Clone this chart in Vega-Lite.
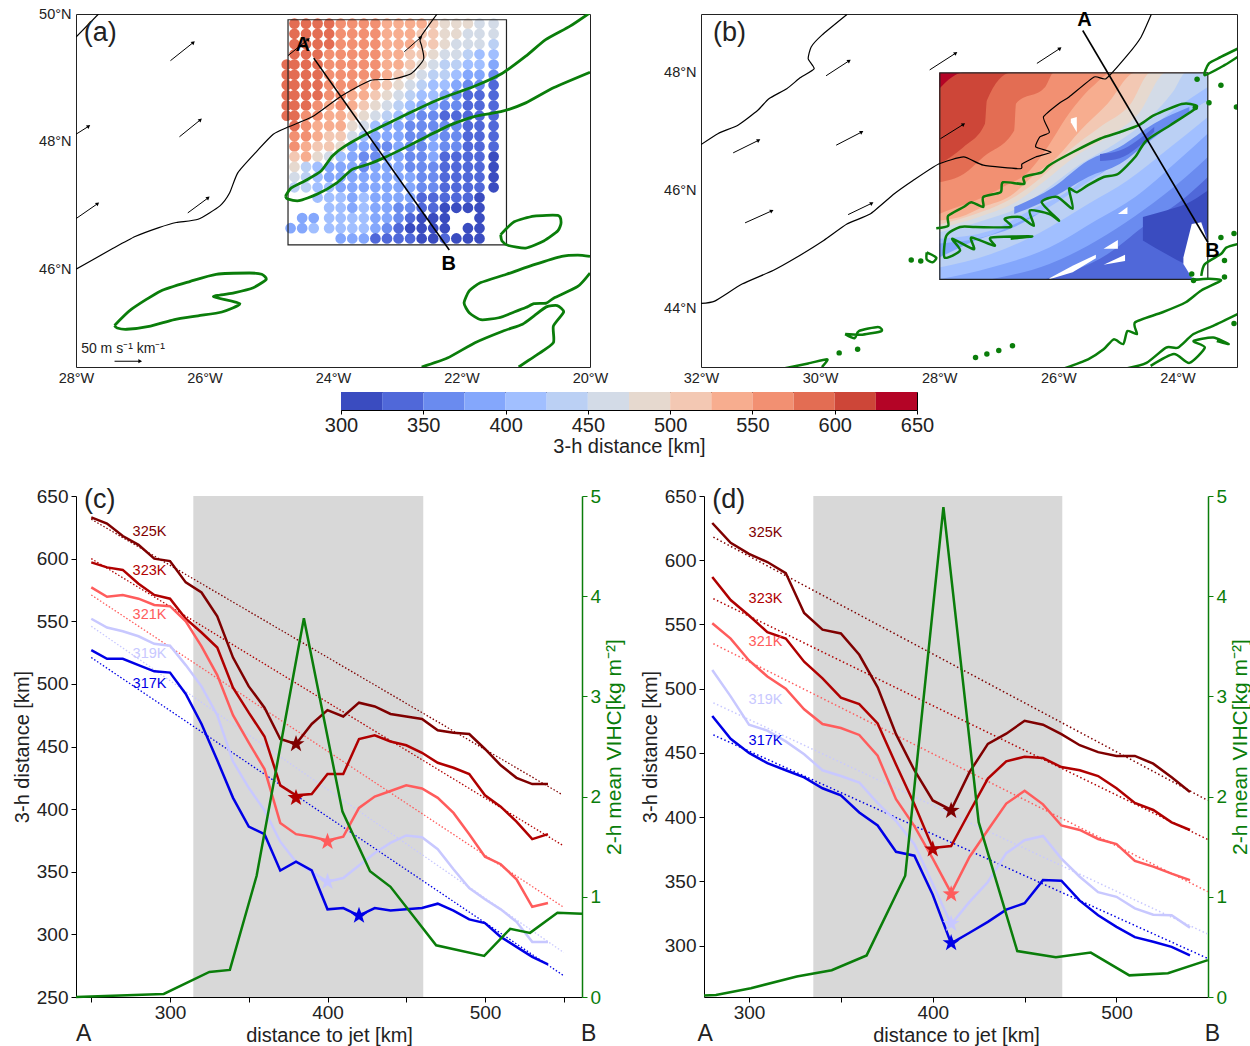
{"$schema":"https://vega.github.io/schema/vega-lite/v6.json","background":"white","padding":{"left":12,"top":5,"right":0,"bottom":0},"spacing":6,
"resolve":{"scale":{"color":"independent"}},
"config":{"view":{"stroke":null},"font":"Liberation Sans","axis":{"labelFont":"Liberation Sans","titleFont":"Liberation Sans","titleFontWeight":"normal","grid":false,"labelColor":"#222","titleColor":"#222","domainColor":"black","tickColor":"black","labelFlush":false,"labelOverlap":false},"text":{"font":"Liberation Sans"}},
"datasets":{
"a_pts":[
{"x":-24.72,"y":49.21,"d":590},{"x":-24.72,"y":49.05,"d":590},{"x":-24.72,"y":48.89,"d":590},{"x":-24.72,"y":48.73,"d":590},{"x":-24.72,"y":48.57,"d":590},{"x":-24.72,"y":48.41,"d":590},
{"x":-24.6,"y":49.85,"d":590},{"x":-24.6,"y":49.69,"d":590},{"x":-24.6,"y":49.53,"d":590},{"x":-24.6,"y":49.37,"d":590},{"x":-24.6,"y":49.21,"d":590},{"x":-24.6,"y":49.05,"d":590},{"x":-24.6,"y":48.89,"d":590},{"x":-24.6,"y":48.73,"d":590},{"x":-24.6,"y":48.57,"d":590},{"x":-24.6,"y":48.41,"d":590},{"x":-24.6,"y":48.25,"d":590},{"x":-24.6,"y":48.09,"d":560},{"x":-24.6,"y":47.93,"d":560},{"x":-24.6,"y":47.77,"d":510},{"x":-24.6,"y":47.61,"d":490},{"x":-24.6,"y":47.45,"d":460},{"x":-24.6,"y":47.29,"d":440},{"x":-24.66,"y":46.65,"d":390},{"x":-24.48,"y":46.81,"d":390},{"x":-24.48,"y":46.65,"d":390},
{"x":-24.42,"y":49.85,"d":590},{"x":-24.42,"y":49.69,"d":590},{"x":-24.42,"y":49.53,"d":590},{"x":-24.42,"y":49.37,"d":590},{"x":-24.42,"y":49.21,"d":590},{"x":-24.42,"y":49.05,"d":590},{"x":-24.42,"y":48.89,"d":590},{"x":-24.42,"y":48.73,"d":590},{"x":-24.42,"y":48.57,"d":590},{"x":-24.42,"y":48.41,"d":560},{"x":-24.42,"y":48.25,"d":560},{"x":-24.42,"y":48.09,"d":560},{"x":-24.42,"y":47.93,"d":540},{"x":-24.42,"y":47.77,"d":540},{"x":-24.42,"y":47.61,"d":440},{"x":-24.42,"y":47.45,"d":440},{"x":-24.42,"y":47.29,"d":440},
{"x":-24.24,"y":49.85,"d":590},{"x":-24.24,"y":49.69,"d":590},{"x":-24.24,"y":49.53,"d":590},{"x":-24.24,"y":49.37,"d":590},{"x":-24.24,"y":49.21,"d":590},{"x":-24.24,"y":49.05,"d":590},{"x":-24.24,"y":48.89,"d":590},{"x":-24.24,"y":48.73,"d":590},{"x":-24.24,"y":48.57,"d":560},{"x":-24.24,"y":48.41,"d":560},{"x":-24.24,"y":48.25,"d":540},{"x":-24.24,"y":48.09,"d":540},{"x":-24.24,"y":47.93,"d":510},{"x":-24.24,"y":47.77,"d":490},{"x":-24.24,"y":47.61,"d":410},{"x":-24.24,"y":47.45,"d":410},{"x":-24.24,"y":47.29,"d":410},{"x":-24.24,"y":47.13,"d":410},{"x":-24.3,"y":46.81,"d":390},{"x":-24.3,"y":46.65,"d":410},
{"x":-24.06,"y":49.85,"d":590},{"x":-24.06,"y":49.69,"d":590},{"x":-24.06,"y":49.53,"d":590},{"x":-24.06,"y":49.37,"d":560},{"x":-24.06,"y":49.21,"d":560},{"x":-24.06,"y":49.05,"d":560},{"x":-24.06,"y":48.89,"d":560},{"x":-24.06,"y":48.73,"d":560},{"x":-24.06,"y":48.57,"d":540},{"x":-24.06,"y":48.41,"d":540},{"x":-24.06,"y":48.25,"d":540},{"x":-24.06,"y":48.09,"d":510},{"x":-24.06,"y":47.93,"d":510},{"x":-24.06,"y":47.77,"d":460},{"x":-24.06,"y":47.61,"d":390},{"x":-24.06,"y":47.45,"d":390},{"x":-24.06,"y":47.29,"d":410},{"x":-24.06,"y":47.13,"d":410},{"x":-24.06,"y":46.97,"d":410},{"x":-24.06,"y":46.81,"d":410},{"x":-24.06,"y":46.65,"d":410},
{"x":-23.88,"y":49.85,"d":560},{"x":-23.88,"y":49.69,"d":560},{"x":-23.88,"y":49.53,"d":560},{"x":-23.88,"y":49.37,"d":560},{"x":-23.88,"y":49.21,"d":560},{"x":-23.88,"y":49.05,"d":560},{"x":-23.88,"y":48.89,"d":560},{"x":-23.88,"y":48.73,"d":560},{"x":-23.88,"y":48.57,"d":560},{"x":-23.88,"y":48.41,"d":540},{"x":-23.88,"y":48.25,"d":540},{"x":-23.88,"y":48.09,"d":510},{"x":-23.88,"y":47.93,"d":490},{"x":-23.88,"y":47.77,"d":410},{"x":-23.88,"y":47.61,"d":390},{"x":-23.88,"y":47.45,"d":390},{"x":-23.88,"y":47.29,"d":390},{"x":-23.88,"y":47.13,"d":410},{"x":-23.88,"y":46.97,"d":410},{"x":-23.88,"y":46.81,"d":410},{"x":-23.88,"y":46.65,"d":410},{"x":-23.88,"y":46.49,"d":390},
{"x":-23.7,"y":49.85,"d":560},{"x":-23.7,"y":49.69,"d":560},{"x":-23.7,"y":49.53,"d":560},{"x":-23.7,"y":49.37,"d":560},{"x":-23.7,"y":49.21,"d":560},{"x":-23.7,"y":49.05,"d":560},{"x":-23.7,"y":48.89,"d":560},{"x":-23.7,"y":48.73,"d":540},{"x":-23.7,"y":48.57,"d":540},{"x":-23.7,"y":48.41,"d":510},{"x":-23.7,"y":48.25,"d":490},{"x":-23.7,"y":48.09,"d":460},{"x":-23.7,"y":47.93,"d":390},{"x":-23.7,"y":47.77,"d":390},{"x":-23.7,"y":47.61,"d":390},{"x":-23.7,"y":47.45,"d":390},{"x":-23.7,"y":47.29,"d":390},{"x":-23.7,"y":47.13,"d":390},{"x":-23.7,"y":46.97,"d":390},{"x":-23.7,"y":46.81,"d":410},{"x":-23.7,"y":46.65,"d":410},{"x":-23.7,"y":46.49,"d":390},
{"x":-23.52,"y":49.85,"d":560},{"x":-23.52,"y":49.69,"d":560},{"x":-23.52,"y":49.53,"d":560},{"x":-23.52,"y":49.37,"d":560},{"x":-23.52,"y":49.21,"d":560},{"x":-23.52,"y":49.05,"d":560},{"x":-23.52,"y":48.89,"d":540},{"x":-23.52,"y":48.73,"d":540},{"x":-23.52,"y":48.57,"d":510},{"x":-23.52,"y":48.41,"d":490},{"x":-23.52,"y":48.25,"d":460},{"x":-23.52,"y":48.09,"d":410},{"x":-23.52,"y":47.93,"d":390},{"x":-23.52,"y":47.77,"d":360},{"x":-23.52,"y":47.61,"d":360},{"x":-23.52,"y":47.45,"d":390},{"x":-23.52,"y":47.29,"d":390},{"x":-23.52,"y":47.13,"d":410},{"x":-23.52,"y":46.97,"d":410},{"x":-23.52,"y":46.81,"d":410},{"x":-23.52,"y":46.65,"d":410},{"x":-23.52,"y":46.49,"d":390},
{"x":-23.34,"y":49.85,"d":560},{"x":-23.34,"y":49.69,"d":560},{"x":-23.34,"y":49.53,"d":560},{"x":-23.34,"y":49.37,"d":560},{"x":-23.34,"y":49.21,"d":560},{"x":-23.34,"y":49.05,"d":560},{"x":-23.34,"y":48.89,"d":540},{"x":-23.34,"y":48.73,"d":510},{"x":-23.34,"y":48.57,"d":490},{"x":-23.34,"y":48.41,"d":460},{"x":-23.34,"y":48.25,"d":410},{"x":-23.34,"y":48.09,"d":390},{"x":-23.34,"y":47.93,"d":360},{"x":-23.34,"y":47.77,"d":360},{"x":-23.34,"y":47.61,"d":390},{"x":-23.34,"y":47.45,"d":390},{"x":-23.34,"y":47.29,"d":390},{"x":-23.34,"y":47.13,"d":390},{"x":-23.34,"y":46.97,"d":390},{"x":-23.34,"y":46.81,"d":390},{"x":-23.34,"y":46.65,"d":390},{"x":-23.34,"y":46.49,"d":340},
{"x":-23.16,"y":49.85,"d":540},{"x":-23.16,"y":49.69,"d":540},{"x":-23.16,"y":49.53,"d":540},{"x":-23.16,"y":49.37,"d":540},{"x":-23.16,"y":49.21,"d":540},{"x":-23.16,"y":49.05,"d":540},{"x":-23.16,"y":48.89,"d":510},{"x":-23.16,"y":48.73,"d":490},{"x":-23.16,"y":48.57,"d":460},{"x":-23.16,"y":48.41,"d":440},{"x":-23.16,"y":48.25,"d":390},{"x":-23.16,"y":48.09,"d":390},{"x":-23.16,"y":47.93,"d":360},{"x":-23.16,"y":47.77,"d":390},{"x":-23.16,"y":47.61,"d":390},{"x":-23.16,"y":47.45,"d":390},{"x":-23.16,"y":47.29,"d":390},{"x":-23.16,"y":47.13,"d":390},{"x":-23.16,"y":46.97,"d":390},{"x":-23.16,"y":46.81,"d":390},{"x":-23.16,"y":46.65,"d":360},{"x":-23.16,"y":46.49,"d":340},
{"x":-22.98,"y":49.85,"d":540},{"x":-22.98,"y":49.69,"d":540},{"x":-22.98,"y":49.53,"d":540},{"x":-22.98,"y":49.37,"d":540},{"x":-22.98,"y":49.21,"d":540},{"x":-22.98,"y":49.05,"d":510},{"x":-22.98,"y":48.89,"d":490},{"x":-22.98,"y":48.73,"d":460},{"x":-22.98,"y":48.57,"d":440},{"x":-22.98,"y":48.41,"d":410},{"x":-22.98,"y":48.25,"d":390},{"x":-22.98,"y":48.09,"d":390},{"x":-22.98,"y":47.93,"d":390},{"x":-22.98,"y":47.77,"d":390},{"x":-22.98,"y":47.61,"d":390},{"x":-22.98,"y":47.45,"d":390},{"x":-22.98,"y":47.29,"d":390},{"x":-22.98,"y":47.13,"d":390},{"x":-22.98,"y":46.97,"d":360},{"x":-22.98,"y":46.81,"d":360},{"x":-22.98,"y":46.65,"d":340},{"x":-22.98,"y":46.49,"d":340},
{"x":-22.8,"y":49.85,"d":540},{"x":-22.8,"y":49.69,"d":540},{"x":-22.8,"y":49.53,"d":540},{"x":-22.8,"y":49.37,"d":510},{"x":-22.8,"y":49.21,"d":510},{"x":-22.8,"y":49.05,"d":490},{"x":-22.8,"y":48.89,"d":460},{"x":-22.8,"y":48.73,"d":440},{"x":-22.8,"y":48.57,"d":410},{"x":-22.8,"y":48.41,"d":390},{"x":-22.8,"y":48.25,"d":360},{"x":-22.8,"y":48.09,"d":360},{"x":-22.8,"y":47.93,"d":360},{"x":-22.8,"y":47.77,"d":360},{"x":-22.8,"y":47.61,"d":360},{"x":-22.8,"y":47.45,"d":390},{"x":-22.8,"y":47.29,"d":390},{"x":-22.8,"y":47.13,"d":390},{"x":-22.8,"y":46.97,"d":360},{"x":-22.8,"y":46.81,"d":340},{"x":-22.8,"y":46.65,"d":310},{"x":-22.8,"y":46.49,"d":340},
{"x":-22.62,"y":49.85,"d":540},{"x":-22.62,"y":49.69,"d":510},{"x":-22.62,"y":49.53,"d":510},{"x":-22.62,"y":49.37,"d":510},{"x":-22.62,"y":49.21,"d":490},{"x":-22.62,"y":49.05,"d":460},{"x":-22.62,"y":48.89,"d":440},{"x":-22.62,"y":48.73,"d":410},{"x":-22.62,"y":48.57,"d":390},{"x":-22.62,"y":48.41,"d":360},{"x":-22.62,"y":48.25,"d":360},{"x":-22.62,"y":48.09,"d":360},{"x":-22.62,"y":47.93,"d":360},{"x":-22.62,"y":47.77,"d":360},{"x":-22.62,"y":47.61,"d":360},{"x":-22.62,"y":47.45,"d":360},{"x":-22.62,"y":47.29,"d":360},{"x":-22.62,"y":47.13,"d":340},{"x":-22.62,"y":46.97,"d":340},{"x":-22.62,"y":46.81,"d":310},{"x":-22.62,"y":46.65,"d":310},{"x":-22.62,"y":46.49,"d":310},
{"x":-22.44,"y":49.85,"d":510},{"x":-22.44,"y":49.69,"d":510},{"x":-22.44,"y":49.53,"d":510},{"x":-22.44,"y":49.37,"d":490},{"x":-22.44,"y":49.21,"d":460},{"x":-22.44,"y":49.05,"d":440},{"x":-22.44,"y":48.89,"d":410},{"x":-22.44,"y":48.73,"d":410},{"x":-22.44,"y":48.57,"d":390},{"x":-22.44,"y":48.41,"d":360},{"x":-22.44,"y":48.25,"d":360},{"x":-22.44,"y":48.09,"d":390},{"x":-22.44,"y":47.93,"d":390},{"x":-22.44,"y":47.77,"d":390},{"x":-22.44,"y":47.61,"d":360},{"x":-22.44,"y":47.45,"d":360},{"x":-22.44,"y":47.29,"d":360},{"x":-22.44,"y":47.13,"d":340},{"x":-22.44,"y":46.97,"d":340},{"x":-22.44,"y":46.81,"d":310},{"x":-22.44,"y":46.65,"d":310},{"x":-22.44,"y":46.49,"d":310},
{"x":-22.26,"y":49.85,"d":490},{"x":-22.26,"y":49.69,"d":490},{"x":-22.26,"y":49.53,"d":490},{"x":-22.26,"y":49.37,"d":460},{"x":-22.26,"y":49.21,"d":440},{"x":-22.26,"y":49.05,"d":440},{"x":-22.26,"y":48.89,"d":410},{"x":-22.26,"y":48.73,"d":390},{"x":-22.26,"y":48.57,"d":360},{"x":-22.26,"y":48.41,"d":340},{"x":-22.26,"y":48.25,"d":360},{"x":-22.26,"y":48.09,"d":360},{"x":-22.26,"y":47.93,"d":360},{"x":-22.26,"y":47.77,"d":340},{"x":-22.26,"y":47.61,"d":340},{"x":-22.26,"y":47.45,"d":340},{"x":-22.26,"y":47.29,"d":340},{"x":-22.26,"y":47.13,"d":340},{"x":-22.26,"y":46.97,"d":310},{"x":-22.26,"y":46.81,"d":310},{"x":-22.26,"y":46.65,"d":310},{"x":-22.26,"y":46.49,"d":340},
{"x":-22.08,"y":49.85,"d":490},{"x":-22.08,"y":49.69,"d":490},{"x":-22.08,"y":49.53,"d":460},{"x":-22.08,"y":49.37,"d":460},{"x":-22.08,"y":49.21,"d":440},{"x":-22.08,"y":49.05,"d":410},{"x":-22.08,"y":48.89,"d":390},{"x":-22.08,"y":48.73,"d":360},{"x":-22.08,"y":48.57,"d":360},{"x":-22.08,"y":48.41,"d":340},{"x":-22.08,"y":48.25,"d":360},{"x":-22.08,"y":48.09,"d":360},{"x":-22.08,"y":47.93,"d":360},{"x":-22.08,"y":47.77,"d":340},{"x":-22.08,"y":47.61,"d":340},{"x":-22.08,"y":47.45,"d":340},{"x":-22.08,"y":47.29,"d":340},{"x":-22.08,"y":47.13,"d":340},{"x":-22.08,"y":46.97,"d":310},{"x":-22.08,"y":46.49,"d":310},
{"x":-21.9,"y":49.85,"d":490},{"x":-21.9,"y":49.69,"d":460},{"x":-21.9,"y":49.53,"d":460},{"x":-21.9,"y":49.37,"d":440},{"x":-21.9,"y":49.21,"d":410},{"x":-21.9,"y":49.05,"d":390},{"x":-21.9,"y":48.89,"d":360},{"x":-21.9,"y":48.73,"d":340},{"x":-21.9,"y":48.57,"d":340},{"x":-21.9,"y":48.41,"d":340},{"x":-21.9,"y":48.25,"d":340},{"x":-21.9,"y":48.09,"d":340},{"x":-21.9,"y":47.93,"d":340},{"x":-21.9,"y":47.77,"d":340},{"x":-21.9,"y":47.61,"d":340},{"x":-21.9,"y":47.45,"d":340},{"x":-21.9,"y":47.29,"d":340},{"x":-21.9,"y":47.13,"d":340},{"x":-21.9,"y":46.97,"d":310},{"x":-21.9,"y":46.65,"d":310},{"x":-21.9,"y":46.49,"d":310},
{"x":-21.72,"y":49.85,"d":460},{"x":-21.72,"y":49.69,"d":460},{"x":-21.72,"y":49.53,"d":460},{"x":-21.72,"y":49.37,"d":410},{"x":-21.72,"y":49.21,"d":410},{"x":-21.72,"y":49.05,"d":390},{"x":-21.72,"y":48.89,"d":360},{"x":-21.72,"y":48.73,"d":340},{"x":-21.72,"y":48.57,"d":340},{"x":-21.72,"y":48.41,"d":340},{"x":-21.72,"y":48.25,"d":340},{"x":-21.72,"y":48.09,"d":340},{"x":-21.72,"y":47.93,"d":340},{"x":-21.72,"y":47.77,"d":340},{"x":-21.72,"y":47.61,"d":340},{"x":-21.72,"y":47.45,"d":340},{"x":-21.72,"y":47.29,"d":340},{"x":-21.72,"y":47.13,"d":310},{"x":-21.72,"y":46.97,"d":310},{"x":-21.72,"y":46.81,"d":310},{"x":-21.72,"y":46.65,"d":310},{"x":-21.72,"y":46.49,"d":310},
{"x":-21.5,"y":49.85,"d":460},{"x":-21.5,"y":49.69,"d":460},{"x":-21.5,"y":49.53,"d":440},{"x":-21.5,"y":49.37,"d":410},{"x":-21.5,"y":49.21,"d":390},{"x":-21.5,"y":49.05,"d":360},{"x":-21.5,"y":48.89,"d":340},{"x":-21.5,"y":48.73,"d":340},{"x":-21.5,"y":48.57,"d":340},{"x":-21.5,"y":48.41,"d":340},{"x":-21.5,"y":48.25,"d":340},{"x":-21.5,"y":48.09,"d":340},{"x":-21.5,"y":47.93,"d":340},{"x":-21.5,"y":47.77,"d":310},{"x":-21.5,"y":47.61,"d":310},{"x":-21.5,"y":47.45,"d":310},{"x":-21.5,"y":47.29,"d":310}],
"a_green":[
{"g":1,"x":-24.74,"y":47.15},{"g":1,"x":-24.65,"y":47.28},{"g":1,"x":-24.44,"y":47.39},{"g":1,"x":-24.19,"y":47.54},{"g":1,"x":-24.01,"y":47.78},{"g":1,"x":-23.82,"y":47.93},{"g":1,"x":-23.45,"y":48.14},{"g":1,"x":-23.02,"y":48.35},{"g":1,"x":-22.65,"y":48.53},{"g":1,"x":-22.29,"y":48.69},{"g":1,"x":-21.8,"y":48.87},{"g":1,"x":-21.37,"y":49.07},{"g":1,"x":-21.0,"y":49.34},{"g":1,"x":-20.69,"y":49.6},{"g":1,"x":-20.31,"y":49.81},{"g":1,"x":-20,"y":50.02},
{"g":2,"x":-20,"y":49.09},{"g":2,"x":-20.56,"y":48.85},{"g":2,"x":-21.0,"y":48.61},{"g":2,"x":-21.36,"y":48.48},{"g":2,"x":-21.79,"y":48.4},{"g":2,"x":-22.16,"y":48.27},{"g":2,"x":-22.53,"y":48.09},{"g":2,"x":-22.84,"y":47.93},{"g":2,"x":-23.21,"y":47.75},{"g":2,"x":-23.45,"y":47.65},{"g":2,"x":-23.7,"y":47.57},{"g":2,"x":-23.94,"y":47.36},{"g":2,"x":-24.25,"y":47.18},{"g":2,"x":-24.53,"y":47.08},{"g":2,"x":-24.71,"y":47.11},{"g":2,"x":-24.74,"y":47.15},
{"g":3,"x":-21.39,"y":46.55},{"g":3,"x":-21.18,"y":46.75},{"g":3,"x":-20.87,"y":46.84},{"g":3,"x":-20.5,"y":46.85},{"g":3,"x":-20.45,"y":46.74},{"g":3,"x":-20.5,"y":46.61},{"g":3,"x":-20.72,"y":46.45},{"g":3,"x":-21.0,"y":46.34},{"g":3,"x":-21.27,"y":46.38},{"g":3,"x":-21.37,"y":46.45},{"g":3,"x":-21.39,"y":46.55},
{"g":4,"x":-27.4,"y":45.13},{"g":4,"x":-27.14,"y":45.38},{"g":4,"x":-26.68,"y":45.67},{"g":4,"x":-26.22,"y":45.82},{"g":4,"x":-25.82,"y":45.93},{"g":4,"x":-25.3,"y":45.95},{"g":4,"x":-25.11,"y":45.93},{"g":4,"x":-25.04,"y":45.85},{"g":4,"x":-25.24,"y":45.72},{"g":4,"x":-25.54,"y":45.64},{"g":4,"x":-25.86,"y":45.58},{"g":4,"x":-25.45,"y":45.47},{"g":4,"x":-25.73,"y":45.34},{"g":4,"x":-26.1,"y":45.28},{"g":4,"x":-26.47,"y":45.22},{"g":4,"x":-26.84,"y":45.12},{"g":4,"x":-27.21,"y":45.07},{"g":4,"x":-27.36,"y":45.09},{"g":4,"x":-27.4,"y":45.13},
{"g":5,"x":-20,"y":45.95},{"g":5,"x":-20.19,"y":45.74},{"g":5,"x":-20.56,"y":45.56},{"g":5,"x":-20.68,"y":45.48},{"g":5,"x":-20.87,"y":45.47},{"g":5,"x":-21.0,"y":45.41},{"g":5,"x":-21.18,"y":45.34},{"g":5,"x":-21.42,"y":45.25},{"g":5,"x":-21.7,"y":45.22},{"g":5,"x":-21.88,"y":45.33},{"g":5,"x":-21.96,"y":45.48},{"g":5,"x":-21.88,"y":45.67},{"g":5,"x":-21.7,"y":45.8},{"g":5,"x":-21.3,"y":45.93},{"g":5,"x":-20.87,"y":46.08},{"g":5,"x":-20.44,"y":46.21},{"g":5,"x":-20.19,"y":46.23},{"g":5,"x":-20,"y":46.21},
{"g":6,"x":-22.62,"y":44.48},{"g":6,"x":-22.22,"y":44.62},{"g":6,"x":-21.79,"y":44.86},{"g":6,"x":-21.36,"y":45.04},{"g":6,"x":-21.05,"y":45.15},{"g":6,"x":-20.87,"y":45.28},{"g":6,"x":-20.68,"y":45.42},{"g":6,"x":-20.51,"y":45.44},{"g":6,"x":-20.41,"y":45.34},{"g":6,"x":-20.57,"y":45.12},{"g":6,"x":-20.57,"y":44.86},{"g":6,"x":-20.81,"y":44.68},{"g":6,"x":-21.11,"y":44.48}],
"a_black":[
{"g":1,"x":-28,"y":46.01},{"g":1,"x":-27.45,"y":46.32},{"g":1,"x":-27.08,"y":46.52},{"g":1,"x":-26.71,"y":46.66},{"g":1,"x":-26.44,"y":46.74},{"g":1,"x":-26.1,"y":46.79},{"g":1,"x":-25.76,"y":47.0},{"g":1,"x":-25.61,"y":47.2},{"g":1,"x":-25.48,"y":47.52},{"g":1,"x":-25.18,"y":47.86},{"g":1,"x":-24.93,"y":48.12},{"g":1,"x":-24.68,"y":48.24},{"g":1,"x":-24.31,"y":48.4},{"g":1,"x":-23.88,"y":48.71},{"g":1,"x":-23.42,"y":48.96},{"g":1,"x":-23.08,"y":48.98},{"g":1,"x":-22.78,"y":49.07},{"g":1,"x":-22.59,"y":49.29},{"g":1,"x":-22.62,"y":49.5},{"g":1,"x":-22.64,"y":49.63},{"g":1,"x":-22.38,"y":50},
{"g":2,"x":-28,"y":49.64},{"g":2,"x":-27.65,"y":50}],
"a_box":[{"x":-24.7,"y":49.91,"x2":-21.3,"y2":46.39}],
"a_ab":[{"x":-24.3,"y":49.31,"x2":-22.19,"y2":46.31}],
"a_arrows":[{"x":-26.53,"y":49.27,"x2":-26.18,"y2":49.55,"dir":48},{"x":-26.39,"y":48.08,"x2":-26.07,"y2":48.34,"dir":48},{"x":-28,"y":48.12,"x2":-27.81,"y2":48.24,"dir":53},{"x":-28,"y":46.8,"x2":-27.67,"y2":47.03,"dir":51},{"x":-26.26,"y":46.89,"x2":-25.95,"y2":47.12,"dir":50},{"x":-24.7,"y":49.35,"x2":-24.39,"y2":49.6,"dir":48},{"x":-22.89,"y":49.41,"x2":-22.64,"y2":49.63,"dir":48},{"x":-27.4,"y":44.57,"x2":-27.01,"y2":44.57,"dir":90}],
"b_fill":[
{"g":1,"d":640,"x":-28,"y":48,"y2":44.49},{"g":1,"d":640,"x":-23.49,"y":48,"y2":44.49},
{"g":2,"d":610,"x":-28,"y":47.73,"y2":44.49},{"g":2,"d":610,"x":-27.6,"y":48,"y2":44.49},{"g":2,"d":610,"x":-23.49,"y":48,"y2":44.49},
{"g":3,"d":590,"x":-28,"y":46.45,"y2":44.49},{"g":3,"d":590,"x":-27.59,"y":46.74,"y2":44.49},{"g":3,"d":590,"x":-27.23,"y":47.14,"y2":44.49},{"g":3,"d":590,"x":-27.2,"y":47.53,"y2":44.49},{"g":3,"d":590,"x":-26.8,"y":48,"y2":44.49},{"g":3,"d":590,"x":-23.49,"y":48,"y2":44.49},
{"g":4,"d":560,"x":-28,"y":46.14,"y2":44.49},{"g":4,"d":560,"x":-27.59,"y":46.28,"y2":44.49},{"g":4,"d":560,"x":-27.26,"y":46.57,"y2":44.49},{"g":4,"d":560,"x":-26.74,"y":47.02,"y2":44.49},{"g":4,"d":560,"x":-26.71,"y":47.48,"y2":44.49},{"g":4,"d":560,"x":-26.22,"y":47.76,"y2":44.49},{"g":4,"d":560,"x":-26.08,"y":48,"y2":44.49},{"g":4,"d":560,"x":-23.49,"y":48,"y2":44.49},
{"g":5,"d":540,"x":-28,"y":45.6,"y2":44.49},{"g":5,"d":540,"x":-27.78,"y":45.69,"y2":44.49},{"g":5,"d":540,"x":-27.39,"y":45.83,"y2":44.49},{"g":5,"d":540,"x":-26.93,"y":46.06,"y2":44.49},{"g":5,"d":540,"x":-26.48,"y":46.34,"y2":44.49},{"g":5,"d":540,"x":-26.22,"y":46.68,"y2":44.49},{"g":5,"d":540,"x":-25.82,"y":47.31,"y2":44.49},{"g":5,"d":540,"x":-25.37,"y":47.82,"y2":44.49},{"g":5,"d":540,"x":-25.1,"y":48,"y2":44.49},{"g":5,"d":540,"x":-23.49,"y":48,"y2":44.49},
{"g":6,"d":510,"x":-28,"y":45.49,"y2":44.49},{"g":6,"d":510,"x":-27.65,"y":45.55,"y2":44.49},{"g":6,"d":510,"x":-27.26,"y":45.72,"y2":44.49},{"g":6,"d":510,"x":-26.8,"y":45.91,"y2":44.49},{"g":6,"d":510,"x":-26.41,"y":46.26,"y2":44.49},{"g":6,"d":510,"x":-26.02,"y":46.57,"y2":44.49},{"g":6,"d":510,"x":-25.63,"y":47.02,"y2":44.49},{"g":6,"d":510,"x":-25.17,"y":47.48,"y2":44.49},{"g":6,"d":510,"x":-24.71,"y":48,"y2":44.49},{"g":6,"d":510,"x":-23.49,"y":48,"y2":44.49},
{"g":7,"d":490,"x":-28,"y":45.42,"y2":44.49},{"g":7,"d":490,"x":-27.39,"y":45.6,"y2":44.49},{"g":7,"d":490,"x":-26.74,"y":45.89,"y2":44.49},{"g":7,"d":490,"x":-26.28,"y":46.23,"y2":44.49},{"g":7,"d":490,"x":-25.82,"y":46.68,"y2":44.49},{"g":7,"d":490,"x":-25.3,"y":47.08,"y2":44.49},{"g":7,"d":490,"x":-24.78,"y":47.48,"y2":44.49},{"g":7,"d":490,"x":-24.45,"y":48,"y2":44.49},{"g":7,"d":490,"x":-23.49,"y":48,"y2":44.49},
{"g":8,"d":460,"x":-28,"y":45.36,"y2":44.49},{"g":8,"d":460,"x":-27.33,"y":45.55,"y2":44.49},{"g":8,"d":460,"x":-26.67,"y":45.83,"y2":44.49},{"g":8,"d":460,"x":-26.22,"y":46.17,"y2":44.49},{"g":8,"d":460,"x":-25.69,"y":46.6,"y2":44.49},{"g":8,"d":460,"x":-25.17,"y":46.91,"y2":44.49},{"g":8,"d":460,"x":-24.65,"y":47.31,"y2":44.49},{"g":8,"d":460,"x":-24.19,"y":48,"y2":44.49},{"g":8,"d":460,"x":-23.49,"y":48,"y2":44.49},
{"g":9,"d":440,"x":-28,"y":45.29,"y2":44.49},{"g":9,"d":440,"x":-27.26,"y":45.49,"y2":44.49},{"g":9,"d":440,"x":-26.61,"y":45.74,"y2":44.49},{"g":9,"d":440,"x":-26.15,"y":46.06,"y2":44.49},{"g":9,"d":440,"x":-25.63,"y":46.45,"y2":44.49},{"g":9,"d":440,"x":-25.04,"y":46.8,"y2":44.49},{"g":9,"d":440,"x":-24.58,"y":47.14,"y2":44.49},{"g":9,"d":440,"x":-24.06,"y":47.7,"y2":44.49},{"g":9,"d":440,"x":-23.86,"y":48,"y2":44.49},{"g":9,"d":440,"x":-23.49,"y":48,"y2":44.49},
{"g":10,"d":410,"x":-28,"y":45.18,"y2":44.49},{"g":10,"d":410,"x":-27.13,"y":45.32,"y2":44.49},{"g":10,"d":410,"x":-26.48,"y":45.66,"y2":44.49},{"g":10,"d":410,"x":-25.82,"y":46,"y2":44.49},{"g":10,"d":410,"x":-25.17,"y":46.57,"y2":44.49},{"g":10,"d":410,"x":-24.58,"y":46.97,"y2":44.49},{"g":10,"d":410,"x":-23.99,"y":47.42,"y2":44.49},{"g":10,"d":410,"x":-23.49,"y":47.76,"y2":44.49},
{"g":11,"d":390,"x":-28,"y":45.1,"y2":44.49},{"g":11,"d":390,"x":-27.13,"y":45.25,"y2":44.49},{"g":11,"d":390,"x":-26.48,"y":45.55,"y2":44.49},{"g":11,"d":390,"x":-25.82,"y":45.83,"y2":44.49},{"g":11,"d":390,"x":-25.17,"y":46.4,"y2":44.49},{"g":11,"d":390,"x":-24.58,"y":46.85,"y2":44.49},{"g":11,"d":390,"x":-23.99,"y":47.25,"y2":44.49},{"g":11,"d":390,"x":-23.49,"y":47.53,"y2":44.49},
{"g":12,"d":440,"x":-28,"y":44.86,"y2":44.49},{"g":12,"d":440,"x":-27.39,"y":45.15,"y2":44.49},{"g":12,"d":440,"x":-26.74,"y":45.38,"y2":44.49},{"g":12,"d":440,"x":-26.15,"y":45.72,"y2":44.49},{"g":12,"d":440,"x":-25.63,"y":46.06,"y2":44.49},{"g":12,"d":440,"x":-25.04,"y":46.45,"y2":44.49},{"g":12,"d":440,"x":-24.45,"y":46.85,"y2":44.49},{"g":12,"d":440,"x":-23.86,"y":47.31,"y2":44.49},{"g":12,"d":440,"x":-23.49,"y":47.53,"y2":44.49},
{"g":13,"d":410,"x":-28,"y":44.69,"y2":44.49},{"g":13,"d":410,"x":-27.13,"y":44.92,"y2":44.49},{"g":13,"d":410,"x":-26.35,"y":45.26,"y2":44.49},{"g":13,"d":410,"x":-25.5,"y":45.77,"y2":44.49},{"g":13,"d":410,"x":-24.84,"y":46.17,"y2":44.49},{"g":13,"d":410,"x":-24.19,"y":46.68,"y2":44.49},{"g":13,"d":410,"x":-23.49,"y":47.25,"y2":44.49},
{"g":14,"d":390,"x":-28,"y":44.49,"y2":44.49},{"g":14,"d":390,"x":-27.13,"y":44.69,"y2":44.49},{"g":14,"d":390,"x":-26.15,"y":45.03,"y2":44.49},{"g":14,"d":390,"x":-25.37,"y":45.49,"y2":44.49},{"g":14,"d":390,"x":-24.71,"y":45.89,"y2":44.49},{"g":14,"d":390,"x":-23.99,"y":46.51,"y2":44.49},{"g":14,"d":390,"x":-23.49,"y":46.97,"y2":44.49},
{"g":15,"d":360,"x":-27.13,"y":44.49,"y2":44.49},{"g":15,"d":360,"x":-26.15,"y":44.75,"y2":44.49},{"g":15,"d":360,"x":-25.17,"y":45.26,"y2":44.49},{"g":15,"d":360,"x":-24.58,"y":45.66,"y2":44.49},{"g":15,"d":360,"x":-23.86,"y":46.23,"y2":44.49},{"g":15,"d":360,"x":-23.49,"y":46.57,"y2":44.49},
{"g":16,"d":340,"x":-26.22,"y":44.49,"y2":44.49},{"g":16,"d":340,"x":-25.17,"y":44.92,"y2":44.49},{"g":16,"d":340,"x":-24.58,"y":45.38,"y2":44.49},{"g":16,"d":340,"x":-23.86,"y":45.89,"y2":44.49},{"g":16,"d":340,"x":-23.49,"y":46.23,"y2":44.49},
{"g":17,"d":310,"x":-24.58,"y":45.55,"y2":45.15},{"g":17,"d":310,"x":-24.19,"y":45.66,"y2":44.92},{"g":17,"d":310,"x":-23.86,"y":45.77,"y2":44.75},{"g":17,"d":310,"x":-23.49,"y":46,"y2":44.69},
{"g":18,"d":360,"x":-26.74,"y":45.72,"y2":45.6},{"g":18,"d":360,"x":-26.08,"y":46.06,"y2":45.89},{"g":18,"d":360,"x":-25.5,"y":46.51,"y2":46.23},{"g":18,"d":360,"x":-24.97,"y":46.74,"y2":46.45},{"g":18,"d":360,"x":-24.39,"y":47.14,"y2":46.91},{"g":18,"d":360,"x":-23.8,"y":47.42,"y2":47.34},
{"g":19,"d":340,"x":-25.3,"y":46.62,"y2":46.5},{"g":19,"d":340,"x":-24.97,"y":46.68,"y2":46.55},{"g":19,"d":340,"x":-24.39,"y":47.08,"y2":47.0}],
"b_white":[
{"g":1,"x":-23.9,"y":44.86,"y2":44.75},{"g":1,"x":-23.76,"y":45.43,"y2":44.52},{"g":1,"x":-23.6,"y":45.46,"y2":44.49},{"g":1,"x":-23.49,"y":45.12,"y2":44.49},
{"g":2,"x":-26.15,"y":44.51,"y2":44.49},{"g":2,"x":-25.76,"y":44.72,"y2":44.61},{"g":2,"x":-25.37,"y":44.91,"y2":44.85},
{"g":3,"x":-25.24,"y":45.01,"y2":45.01},{"g":3,"x":-25,"y":45.16,"y2":45.01},
{"g":4,"x":-25.24,"y":44.74,"y2":44.74},{"g":4,"x":-24.88,"y":44.91,"y2":44.8},
{"g":5,"x":-25,"y":45.6,"y2":45.6},{"g":5,"x":-24.84,"y":45.72,"y2":45.6},
{"g":6,"x":-25.79,"y":47.22,"y2":47.16},{"g":6,"x":-25.69,"y":47.25,"y2":46.99}],
"b_green":[
{"g":1,"x":-28.05,"y":45.36},{"g":1,"x":-27.85,"y":45.4},{"g":1,"x":-27.85,"y":45.57},{"g":1,"x":-27.59,"y":45.72},{"g":1,"x":-27.46,"y":45.8},{"g":1,"x":-27.26,"y":45.72},{"g":1,"x":-27.26,"y":45.89},{"g":1,"x":-26.97,"y":45.97},{"g":1,"x":-26.93,"y":46.14},{"g":1,"x":-26.58,"y":46.11},{"g":1,"x":-26.58,"y":46.23},{"g":1,"x":-26.28,"y":46.31},{"g":1,"x":-26.15,"y":46.43},{"g":1,"x":-25.76,"y":46.65},{"g":1,"x":-25.3,"y":46.88},{"g":1,"x":-24.97,"y":46.99},{"g":1,"x":-24.65,"y":47.11},{"g":1,"x":-24.39,"y":47.28},{"g":1,"x":-23.93,"y":47.47},{"g":1,"x":-23.7,"y":47.45},{"g":1,"x":-23.7,"y":47.39},{"g":1,"x":-24.12,"y":47.11},{"g":1,"x":-24.52,"y":46.85},{"g":1,"x":-24.71,"y":46.57},{"g":1,"x":-25,"y":46.28},{"g":1,"x":-25.24,"y":46.23},{"g":1,"x":-25.5,"y":46.09},{"g":1,"x":-25.69,"y":45.97},{"g":1,"x":-25.82,"y":46.03},{"g":1,"x":-25.76,"y":45.69},{"g":1,"x":-26.02,"y":45.89},{"g":1,"x":-26.28,"y":45.8},{"g":1,"x":-25.99,"y":45.49},{"g":1,"x":-26.15,"y":45.6},{"g":1,"x":-26.48,"y":45.66},{"g":1,"x":-26.41,"y":45.4},{"g":1,"x":-26.64,"y":45.55},{"g":1,"x":-26.9,"y":45.52},{"g":1,"x":-26.8,"y":45.38},{"g":1,"x":-27.39,"y":45.38},{"g":1,"x":-27.65,"y":45.38},{"g":1,"x":-27.88,"y":45.23},{"g":1,"x":-27.91,"y":44.86},{"g":1,"x":-27.65,"y":44.98},{"g":1,"x":-27.78,"y":45.18},{"g":1,"x":-27.42,"y":45},{"g":1,"x":-27.46,"y":45.2},{"g":1,"x":-27.07,"y":45.06},{"g":1,"x":-27.13,"y":45.2},{"g":1,"x":-26.44,"y":45.22},{"g":1,"x":-26.8,"y":45.18},
{"g":2,"x":-22.99,"y":48.41},{"g":2,"x":-23.27,"y":48.27},{"g":2,"x":-23.47,"y":48.16},{"g":2,"x":-23.54,"y":47.96},{"g":2,"x":-23.21,"y":48.13},{"g":2,"x":-22.99,"y":48.27},
{"g":3,"x":-23.6,"y":44.55},{"g":3,"x":-23.54,"y":44.75},{"g":3,"x":-23.27,"y":44.92},{"g":3,"x":-23.18,"y":45.03},{"g":3,"x":-22.99,"y":45.09},
{"g":4,"x":-25.89,"y":42.98},{"g":4,"x":-25.5,"y":43.13},{"g":4,"x":-25.24,"y":43.3},{"g":4,"x":-25.07,"y":43.47},{"g":4,"x":-24.91,"y":43.39},{"g":4,"x":-24.84,"y":43.61},{"g":4,"x":-24.68,"y":43.56},{"g":4,"x":-24.71,"y":43.76},{"g":4,"x":-24.25,"y":43.93},{"g":4,"x":-23.86,"y":44.1},{"g":4,"x":-23.6,"y":44.3},{"g":4,"x":-23.27,"y":44.47},{"g":4,"x":-23.47,"y":44.5},{"g":4,"x":-23.73,"y":44.48},
{"g":5,"x":-24.84,"y":42.98},{"g":5,"x":-24.52,"y":43.07},{"g":5,"x":-24.19,"y":43.33},{"g":5,"x":-23.99,"y":43.33},{"g":5,"x":-23.73,"y":43.56},{"g":5,"x":-23.4,"y":43.7},{"g":5,"x":-22.99,"y":43.9},
{"g":6,"x":-24.45,"y":43.02},{"g":6,"x":-24.06,"y":43.22},{"g":6,"x":-23.8,"y":43.07},{"g":6,"x":-23.54,"y":43.33},{"g":6,"x":-23.73,"y":43.44},{"g":6,"x":-23.4,"y":43.5},{"g":6,"x":-23.14,"y":43.39},{"g":6,"x":-23.34,"y":43.44},
{"g":7,"x":-30.59,"y":42.98},{"g":7,"x":-30.2,"y":43.06},{"g":7,"x":-29.88,"y":43.13},{"g":7,"x":-29.97,"y":43},
{"g":8,"x":-29.58,"y":43.56},{"g":8,"x":-29.42,"y":43.49},{"g":8,"x":-29.35,"y":43.61},{"g":8,"x":-29.03,"y":43.68},{"g":8,"x":-28.97,"y":43.61},{"g":8,"x":-29.29,"y":43.55},{"g":8,"x":-29.58,"y":43.56},
{"g":9,"x":-28.21,"y":44.95},{"g":9,"x":-28.05,"y":44.86},{"g":9,"x":-28.11,"y":44.78},{"g":9,"x":-28.21,"y":44.83},{"g":9,"x":-28.21,"y":44.95}],
"b_dots":[{"x":-28.47,"y":44.82},{"x":-28.31,"y":44.8},{"x":-23.67,"y":47.89},{"x":-23.27,"y":47.79},{"x":-23.7,"y":47.41},{"x":-23.47,"y":47.49},{"x":-23.01,"y":47.42},{"x":-29.37,"y":43.3},{"x":-29.68,"y":43.24},{"x":-27.39,"y":43.16},{"x":-27.2,"y":43.22},{"x":-27,"y":43.28},{"x":-26.77,"y":43.36},{"x":-23.05,"y":43.74},{"x":-23.76,"y":44.58},{"x":-23.73,"y":44.47},{"x":-23.21,"y":44.53},{"x":-23.27,"y":45.2},{"x":-23.05,"y":45.27},{"x":-23.21,"y":44.81}],
"b_black":[
{"g":1,"x":-32,"y":46.78},{"g":1,"x":-31.71,"y":46.97},{"g":1,"x":-31.38,"y":47.11},{"g":1,"x":-31.05,"y":47.36},{"g":1,"x":-30.86,"y":47.56},{"g":1,"x":-30.56,"y":47.73},{"g":1,"x":-30.33,"y":47.92},{"g":1,"x":-30.1,"y":48.07},{"g":1,"x":-30.2,"y":48.24},{"g":1,"x":-30.15,"y":48.44},{"g":1,"x":-29.97,"y":48.64},{"g":1,"x":-29.55,"y":48.99},
{"g":2,"x":-32,"y":44.08},{"g":2,"x":-31.77,"y":44.12},{"g":2,"x":-31.31,"y":44.41},{"g":2,"x":-30.79,"y":44.64},{"g":2,"x":-30.4,"y":44.86},{"g":2,"x":-29.94,"y":45.15},{"g":2,"x":-29.55,"y":45.43},{"g":2,"x":-29.16,"y":45.6},{"g":2,"x":-28.76,"y":45.94},{"g":2,"x":-28.44,"y":46.17},{"g":2,"x":-28.01,"y":46.45},{"g":2,"x":-27.59,"y":46.57},{"g":2,"x":-27.26,"y":46.43},{"g":2,"x":-26.64,"y":46.37},{"g":2,"x":-26.61,"y":46.45},{"g":2,"x":-26.38,"y":46.57},{"g":2,"x":-26.12,"y":46.65},{"g":2,"x":-26.38,"y":46.74},{"g":2,"x":-26.31,"y":46.91},{"g":2,"x":-26.15,"y":46.99},{"g":2,"x":-26.25,"y":47.25},{"g":2,"x":-25.99,"y":47.48},{"g":2,"x":-25.82,"y":47.59},{"g":2,"x":-25.4,"y":47.93},{"g":2,"x":-25.2,"y":47.9},{"g":2,"x":-24.84,"y":48.3},{"g":2,"x":-24.61,"y":48.61},{"g":2,"x":-24.44,"y":48.99}],
"b_box":[{"x":-27.99,"y":48,"x2":-23.49,"y2":44.49}],
"b_ab":[{"x":-25.59,"y":48.72,"x2":-23.49,"y2":45.12}],
"b_arrows":[{"x":-31.46,"y":46.64,"x2":-31.04,"y2":46.85,"dir":62},{"x":-29.73,"y":46.77,"x2":-29.31,"y2":46.99,"dir":60},{"x":-31.26,"y":45.45,"x2":-30.82,"y2":45.65,"dir":64},{"x":-29.53,"y":45.59,"x2":-29.14,"y2":45.78,"dir":60},{"x":-29.9,"y":47.95,"x2":-29.52,"y2":48.2,"dir":54},{"x":-28.16,"y":48.05,"x2":-27.73,"y2":48.33,"dir":53},{"x":-26.36,"y":48.16,"x2":-25.98,"y2":48.41,"dir":52},{"x":-27.98,"y":46.88,"x2":-27.6,"y2":47.12,"dir":54}],
"bar":[{"lo":300,"hi":325,"d":310},{"lo":325,"hi":350,"d":340},{"lo":350,"hi":375,"d":360},{"lo":375,"hi":400,"d":390},{"lo":400,"hi":425,"d":410},{"lo":425,"hi":450,"d":440},{"lo":450,"hi":475,"d":460},{"lo":475,"hi":500,"d":490},{"lo":500,"hi":525,"d":510},{"lo":525,"hi":550,"d":540},{"lo":550,"hi":575,"d":560},{"lo":575,"hi":600,"d":590},{"lo":600,"hi":625,"d":610},{"lo":625,"hi":650,"d":640}],
"c_lines":[
{"s":"325K","x":250,"y":633},{"s":"325K","x":260,"y":628},{"s":"325K","x":270,"y":618},{"s":"325K","x":280,"y":611},{"s":"325K","x":290,"y":600},{"s":"325K","x":300,"y":598},{"s":"325K","x":310,"y":581},{"s":"325K","x":320,"y":573},{"s":"325K","x":330,"y":554},{"s":"325K","x":340,"y":521},{"s":"325K","x":350,"y":498},{"s":"325K","x":360,"y":481},{"s":"325K","x":370,"y":456},{"s":"325K","x":380,"y":452},{"s":"325K","x":390,"y":468},{"s":"325K","x":400,"y":479},{"s":"325K","x":410,"y":474},{"s":"325K","x":420,"y":485},{"s":"325K","x":430,"y":482},{"s":"325K","x":440,"y":476},{"s":"325K","x":450,"y":474},{"s":"325K","x":460,"y":472},{"s":"325K","x":470,"y":463},{"s":"325K","x":480,"y":461},{"s":"325K","x":490,"y":460},{"s":"325K","x":500,"y":448},{"s":"325K","x":510,"y":435},{"s":"325K","x":520,"y":425},{"s":"325K","x":530,"y":420},{"s":"325K","x":540,"y":420},
{"s":"323K","x":250,"y":597},{"s":"323K","x":260,"y":593},{"s":"323K","x":270,"y":591},{"s":"323K","x":280,"y":580},{"s":"323K","x":290,"y":571},{"s":"323K","x":300,"y":568},{"s":"323K","x":310,"y":552},{"s":"323K","x":320,"y":541},{"s":"323K","x":330,"y":529},{"s":"323K","x":340,"y":497},{"s":"323K","x":350,"y":477},{"s":"323K","x":360,"y":458},{"s":"323K","x":370,"y":419},{"s":"323K","x":380,"y":411},{"s":"323K","x":390,"y":412},{"s":"323K","x":400,"y":428},{"s":"323K","x":410,"y":428},{"s":"323K","x":420,"y":456},{"s":"323K","x":430,"y":459},{"s":"323K","x":440,"y":454},{"s":"323K","x":450,"y":451},{"s":"323K","x":460,"y":445},{"s":"323K","x":470,"y":437},{"s":"323K","x":480,"y":433},{"s":"323K","x":490,"y":428},{"s":"323K","x":500,"y":411},{"s":"323K","x":510,"y":402},{"s":"323K","x":520,"y":390},{"s":"323K","x":530,"y":376},{"s":"323K","x":540,"y":380},
{"s":"321K","x":250,"y":577},{"s":"321K","x":260,"y":569.5},{"s":"321K","x":270,"y":571},{"s":"321K","x":280,"y":568},{"s":"321K","x":290,"y":563},{"s":"321K","x":300,"y":562},{"s":"321K","x":310,"y":550},{"s":"321K","x":320,"y":530},{"s":"321K","x":330,"y":507},{"s":"321K","x":340,"y":475},{"s":"321K","x":350,"y":453},{"s":"321K","x":360,"y":432},{"s":"321K","x":370,"y":389},{"s":"321K","x":380,"y":380},{"s":"321K","x":390,"y":378},{"s":"321K","x":400,"y":375},{"s":"321K","x":410,"y":378},{"s":"321K","x":420,"y":401},{"s":"321K","x":430,"y":410},{"s":"321K","x":440,"y":414.5},{"s":"321K","x":450,"y":419},{"s":"321K","x":460,"y":416.5},{"s":"321K","x":470,"y":409},{"s":"321K","x":480,"y":397},{"s":"321K","x":490,"y":380},{"s":"321K","x":500,"y":362},{"s":"321K","x":510,"y":356},{"s":"321K","x":520,"y":344},{"s":"321K","x":530,"y":322},{"s":"321K","x":540,"y":325},
{"s":"319K","x":250,"y":552},{"s":"319K","x":260,"y":545},{"s":"319K","x":270,"y":542},{"s":"319K","x":280,"y":538},{"s":"319K","x":290,"y":532},{"s":"319K","x":300,"y":530.5},{"s":"319K","x":310,"y":515},{"s":"319K","x":320,"y":498},{"s":"319K","x":330,"y":475},{"s":"319K","x":340,"y":438},{"s":"319K","x":350,"y":417},{"s":"319K","x":360,"y":399},{"s":"319K","x":370,"y":374},{"s":"319K","x":380,"y":358},{"s":"319K","x":390,"y":350},{"s":"319K","x":400,"y":342},{"s":"319K","x":410,"y":345},{"s":"319K","x":420,"y":355},{"s":"319K","x":430,"y":365},{"s":"319K","x":440,"y":373},{"s":"319K","x":450,"y":379},{"s":"319K","x":460,"y":377.5},{"s":"319K","x":470,"y":368},{"s":"319K","x":480,"y":352},{"s":"319K","x":490,"y":337},{"s":"319K","x":500,"y":328},{"s":"319K","x":510,"y":320},{"s":"319K","x":520,"y":310},{"s":"319K","x":530,"y":294},{"s":"319K","x":540,"y":294},
{"s":"317K","x":250,"y":527},{"s":"317K","x":260,"y":520},{"s":"317K","x":270,"y":520},{"s":"317K","x":280,"y":515},{"s":"317K","x":290,"y":510},{"s":"317K","x":300,"y":509},{"s":"317K","x":310,"y":492},{"s":"317K","x":320,"y":468},{"s":"317K","x":330,"y":439},{"s":"317K","x":340,"y":409},{"s":"317K","x":350,"y":386},{"s":"317K","x":360,"y":380},{"s":"317K","x":370,"y":351},{"s":"317K","x":380,"y":358},{"s":"317K","x":390,"y":351},{"s":"317K","x":400,"y":320},{"s":"317K","x":410,"y":321},{"s":"317K","x":420,"y":315},{"s":"317K","x":430,"y":321},{"s":"317K","x":440,"y":319},{"s":"317K","x":450,"y":320},{"s":"317K","x":460,"y":321},{"s":"317K","x":470,"y":324.5},{"s":"317K","x":480,"y":319},{"s":"317K","x":490,"y":312},{"s":"317K","x":500,"y":309},{"s":"317K","x":510,"y":298},{"s":"317K","x":520,"y":290},{"s":"317K","x":530,"y":282},{"s":"317K","x":540,"y":276}],
"c_fit":[{"s":"325K","x":250,"y":631.5},{"s":"325K","x":549,"y":411.6},{"s":"323K","x":250,"y":600},{"s":"323K","x":550,"y":370.6},{"s":"321K","x":250,"y":571},{"s":"321K","x":550,"y":321.6},{"s":"319K","x":250,"y":546},{"s":"319K","x":550,"y":285.5},{"s":"317K","x":250,"y":521},{"s":"317K","x":550,"y":267}],
"c_stars":[{"s":"325K","x":380,"y":452},{"s":"323K","x":380,"y":409},{"s":"321K","x":400,"y":374},{"s":"319K","x":400,"y":342},{"s":"317K","x":420,"y":315}],
"c_labels":[{"s":"325K","x":287,"y":621},{"s":"323K","x":287,"y":590},{"s":"321K","x":287,"y":555},{"s":"319K","x":287,"y":524},{"s":"317K","x":287,"y":500}],
"c_green":[{"x":240.3,"v":0},{"x":296,"v":0.03},{"x":325,"v":0.25},{"x":338,"v":0.27},{"x":355,"v":1.21},{"x":385,"v":3.78},{"x":409.5,"v":1.85},{"x":427,"v":1.255},{"x":440,"v":1.1},{"x":469,"v":0.516},{"x":499.5,"v":0.41},{"x":516,"v":0.68},{"x":528.6,"v":0.64},{"x":546,"v":0.84},{"x":561.6,"v":0.83}],
"d_lines":[
{"s":"325K","x":280,"y":629},{"s":"325K","x":290,"y":613.5},{"s":"325K","x":300,"y":605},{"s":"325K","x":310,"y":598.6},{"s":"325K","x":320,"y":590},{"s":"325K","x":330,"y":559},{"s":"325K","x":340,"y":546},{"s":"325K","x":350,"y":543},{"s":"325K","x":360,"y":526.4},{"s":"325K","x":370,"y":501},{"s":"325K","x":380,"y":464.6},{"s":"325K","x":390,"y":436.5},{"s":"325K","x":400,"y":413},{"s":"325K","x":410,"y":405.6},{"s":"325K","x":420,"y":435},{"s":"325K","x":430,"y":457},{"s":"325K","x":440,"y":465},{"s":"325K","x":450,"y":475},{"s":"325K","x":460,"y":472},{"s":"325K","x":470,"y":464.6},{"s":"325K","x":480,"y":456},{"s":"325K","x":490,"y":450.6},{"s":"325K","x":500,"y":447.7},{"s":"325K","x":510,"y":447.7},{"s":"325K","x":520,"y":441.6},{"s":"325K","x":530,"y":431},{"s":"325K","x":540,"y":419.6},
{"s":"323K","x":280,"y":587},{"s":"323K","x":290,"y":569},{"s":"323K","x":300,"y":557},{"s":"323K","x":310,"y":544},{"s":"323K","x":320,"y":539},{"s":"323K","x":330,"y":521},{"s":"323K","x":340,"y":508},{"s":"323K","x":350,"y":493},{"s":"323K","x":360,"y":488},{"s":"323K","x":370,"y":473},{"s":"323K","x":380,"y":441},{"s":"323K","x":390,"y":410},{"s":"323K","x":400,"y":376},{"s":"323K","x":410,"y":377.5},{"s":"323K","x":420,"y":404},{"s":"323K","x":430,"y":430},{"s":"323K","x":440,"y":443.5},{"s":"323K","x":450,"y":447},{"s":"323K","x":460,"y":446},{"s":"323K","x":470,"y":439},{"s":"323K","x":480,"y":436.5},{"s":"323K","x":490,"y":432},{"s":"323K","x":500,"y":422.5},{"s":"323K","x":510,"y":411},{"s":"323K","x":520,"y":405.6},{"s":"323K","x":530,"y":396},{"s":"323K","x":540,"y":390},
{"s":"321K","x":280,"y":551},{"s":"321K","x":290,"y":539},{"s":"321K","x":300,"y":522},{"s":"321K","x":310,"y":509.5},{"s":"321K","x":320,"y":500},{"s":"321K","x":330,"y":484},{"s":"321K","x":340,"y":472.5},{"s":"321K","x":350,"y":469.4},{"s":"321K","x":360,"y":464},{"s":"321K","x":370,"y":447.8},{"s":"321K","x":380,"y":414},{"s":"321K","x":390,"y":393},{"s":"321K","x":400,"y":367.7},{"s":"321K","x":410,"y":341},{"s":"321K","x":420,"y":369},{"s":"321K","x":430,"y":390},{"s":"321K","x":440,"y":410.6},{"s":"321K","x":450,"y":420.5},{"s":"321K","x":460,"y":410},{"s":"321K","x":470,"y":393.5},{"s":"321K","x":480,"y":390},{"s":"321K","x":490,"y":383},{"s":"321K","x":500,"y":379},{"s":"321K","x":510,"y":366},{"s":"321K","x":520,"y":361.5},{"s":"321K","x":530,"y":356},{"s":"321K","x":540,"y":351},
{"s":"319K","x":280,"y":514.6},{"s":"319K","x":290,"y":494},{"s":"319K","x":300,"y":472},{"s":"319K","x":310,"y":467.4},{"s":"319K","x":320,"y":459},{"s":"319K","x":330,"y":449},{"s":"319K","x":340,"y":436.5},{"s":"319K","x":350,"y":432},{"s":"319K","x":360,"y":427},{"s":"319K","x":370,"y":411},{"s":"319K","x":380,"y":397},{"s":"319K","x":390,"y":379},{"s":"319K","x":400,"y":348},{"s":"319K","x":410,"y":316.6},{"s":"319K","x":420,"y":334},{"s":"319K","x":430,"y":349.5},{"s":"319K","x":440,"y":372},{"s":"319K","x":450,"y":382},{"s":"319K","x":460,"y":385.4},{"s":"319K","x":470,"y":367.7},{"s":"319K","x":480,"y":353.6},{"s":"319K","x":490,"y":341.6},{"s":"319K","x":500,"y":338},{"s":"319K","x":510,"y":329},{"s":"319K","x":520,"y":324},{"s":"319K","x":530,"y":323.6},{"s":"319K","x":540,"y":314},
{"s":"317K","x":280,"y":478.7},{"s":"317K","x":290,"y":461},{"s":"317K","x":300,"y":450},{"s":"317K","x":310,"y":442},{"s":"317K","x":320,"y":436.5},{"s":"317K","x":330,"y":431},{"s":"317K","x":340,"y":422.5},{"s":"317K","x":350,"y":417},{"s":"317K","x":360,"y":403.6},{"s":"317K","x":370,"y":393.5},{"s":"317K","x":380,"y":373},{"s":"317K","x":390,"y":370},{"s":"317K","x":400,"y":339.6},{"s":"317K","x":410,"y":301.7},{"s":"317K","x":420,"y":310},{"s":"317K","x":430,"y":318.5},{"s":"317K","x":440,"y":328},{"s":"317K","x":450,"y":333},{"s":"317K","x":460,"y":351},{"s":"317K","x":470,"y":350.5},{"s":"317K","x":480,"y":335},{"s":"317K","x":490,"y":323.6},{"s":"317K","x":500,"y":314.6},{"s":"317K","x":510,"y":306.6},{"s":"317K","x":520,"y":303},{"s":"317K","x":530,"y":299},{"s":"317K","x":540,"y":292.4}],
"d_fit":[{"s":"325K","x":280.6,"y":618},{"s":"325K","x":549.7,"y":413},{"s":"323K","x":280.6,"y":570},{"s":"323K","x":549.7,"y":382.6},{"s":"321K","x":280.6,"y":535},{"s":"321K","x":549.7,"y":342},{"s":"319K","x":280.6,"y":489},{"s":"319K","x":549.7,"y":309},{"s":"317K","x":280.6,"y":464},{"s":"317K","x":549.7,"y":290}],
"d_stars":[{"s":"325K","x":410,"y":405},{"s":"323K","x":400,"y":375},{"s":"321K","x":410,"y":340},{"s":"319K","x":410,"y":317},{"s":"317K","x":410,"y":302}],
"d_labels":[{"s":"325K","x":309,"y":621},{"s":"323K","x":309,"y":570},{"s":"321K","x":309,"y":536},{"s":"319K","x":309,"y":491},{"s":"317K","x":309,"y":459.5}],
"d_green":[{"x":275.5,"v":0.015},{"x":282,"v":0.02},{"x":301,"v":0.087},{"x":326,"v":0.205},{"x":345,"v":0.267},{"x":364,"v":0.415},{"x":385,"v":1.21},{"x":405.8,"v":4.89},{"x":425,"v":1.745},{"x":446,"v":0.458},{"x":467,"v":0.397},{"x":486,"v":0.443},{"x":507,"v":0.216},{"x":528,"v":0.238},{"x":549.7,"v":0.368}]
},
"vconcat":[
{"hconcat":[
{"width":514,"height":353,"view":{"stroke":"#222"},
"encoding":{"x":{"field":"x","type":"quantitative","title":null,"scale":{"domain":[-28,-20],"nice":false,"zero":false},"axis":{"values":[-28,-26,-24,-22,-20],"labelExpr":"abs(datum.value)+'°W'","domain":false,"ticks":false,"labelFontSize":14.5,"labelPadding":4}},"y":{"field":"y","type":"quantitative","title":null,"scale":{"domain":[44.48,50],"nice":false,"zero":false},"axis":{"values":[46,48,50],"labelExpr":"datum.value+'°N'","domain":false,"ticks":false,"labelFontSize":14.5,"labelPadding":5}}},
"layer":[
{"data":{"name":"a_pts"},"mark":{"type":"circle","size":115,"opacity":1,"clip":true},"encoding":{"color":{"field":"d","type":"quantitative","legend":null,"scale":{"type":"threshold","domain":[325,350,375,400,425,450,475,500,525,550,575,600,625],"range":["#3a4cc0","#5068d9","#6a8bef","#84a7fc","#a1bfff","#bbd0f4","#d3dbe7","#e6d9cf","#f3c8b3","#f7ad8f","#f29072","#e36d53","#cd4638","#b40426"]}}}},
{"data":{"name":"a_box"},"mark":{"type":"rect","fillOpacity":0,"stroke":"#222","strokeWidth":1.2},"encoding":{"x2":{"field":"x2"},"y2":{"field":"y2"}}},
{"data":{"name":"a_black"},"mark":{"type":"line","color":"black","strokeWidth":1.2,"clip":true,"interpolate":"cardinal","tension":0.4},"encoding":{"detail":{"field":"g"},"order":{"value":null}}},
{"data":{"name":"a_green"},"mark":{"type":"line","color":"#0a7d0a","strokeWidth":2.8,"clip":true,"interpolate":"cardinal","tension":0.4},"encoding":{"detail":{"field":"g"},"order":{"value":null}}},
{"data":{"name":"a_ab"},"mark":{"type":"rule","color":"black","strokeWidth":1.6},"encoding":{"x2":{"field":"x2"},"y2":{"field":"y2"}}},
{"data":{"name":"a_arrows"},"mark":{"type":"rule","color":"black","strokeWidth":1},"encoding":{"x2":{"field":"x2"},"y2":{"field":"y2"}}},
{"data":{"name":"a_arrows"},"mark":{"type":"point","shape":"triangle","filled":true,"color":"black","opacity":1,"size":18},"encoding":{"x":{"field":"x2","type":"quantitative"},"y":{"field":"y2","type":"quantitative"},"angle":{"field":"dir","type":"quantitative","scale":null}}},
{"data":{"values":[{"x":-27.88,"y":49.71,"t":"(a)"}]},"mark":{"type":"text","align":"left","fontSize":27,"color":"#222"},"encoding":{"text":{"field":"t"}}},
{"data":{"values":[{"x":-24.47,"y":49.52,"t":"A"},{"x":-22.2,"y":46.09,"t":"B"}]},"mark":{"type":"text","fontSize":20,"fontWeight":"bold","color":"black"},"encoding":{"text":{"field":"t"}}},
{"data":{"values":[{"x":-27.92,"y":44.76,"t":"50 m s⁻¹ km⁻¹"}]},"mark":{"type":"text","align":"left","fontSize":14,"color":"#222"},"encoding":{"text":{"field":"t"}}}
]},
{"width":536,"height":353,"view":{"stroke":"#222"},
"encoding":{"x":{"field":"x","type":"quantitative","title":null,"scale":{"domain":[-32,-23],"nice":false,"zero":false},"axis":{"values":[-32,-30,-28,-26,-24],"labelExpr":"abs(datum.value)+'°W'","domain":false,"ticks":false,"labelFontSize":14.5,"labelPadding":4}},"y":{"field":"y","type":"quantitative","title":null,"scale":{"domain":[43,49],"nice":false,"zero":false},"axis":{"values":[44,46,48],"labelExpr":"datum.value+'°N'","domain":false,"ticks":false,"labelFontSize":14.5,"labelPadding":5}}},
"layer":[
{"data":{"name":"b_fill"},"mark":{"type":"area","opacity":1,"clip":true,"interpolate":"monotone"},"encoding":{"y2":{"field":"y2"},"detail":{"field":"g"},"color":{"field":"d","type":"quantitative","legend":null,"scale":{"type":"threshold","domain":[325,350,375,400,425,450,475,500,525,550,575,600,625],"range":["#3a4cc0","#5068d9","#6a8bef","#84a7fc","#a1bfff","#bbd0f4","#d3dbe7","#e6d9cf","#f3c8b3","#f7ad8f","#f29072","#e36d53","#cd4638","#b40426"]}}}},
{"data":{"name":"b_white"},"mark":{"type":"area","color":"white","opacity":1,"clip":true},"encoding":{"y2":{"field":"y2"},"detail":{"field":"g"}}},
{"data":{"name":"b_box"},"mark":{"type":"rect","fillOpacity":0,"stroke":"#222","strokeWidth":1.2},"encoding":{"x2":{"field":"x2"},"y2":{"field":"y2"}}},
{"data":{"name":"b_black"},"mark":{"type":"line","color":"black","strokeWidth":1.2,"clip":true,"interpolate":"cardinal","tension":0.5},"encoding":{"detail":{"field":"g"},"order":{"value":null}}},
{"data":{"name":"b_green"},"mark":{"type":"line","color":"#0a7d0a","strokeWidth":2.5,"clip":true,"interpolate":"cardinal","tension":0.3},"encoding":{"detail":{"field":"g"},"order":{"value":null}}},
{"data":{"name":"b_dots"},"mark":{"type":"circle","color":"#0a7d0a","opacity":1,"size":30,"clip":true}},
{"data":{"name":"b_ab"},"mark":{"type":"rule","color":"black","strokeWidth":1.6},"encoding":{"x2":{"field":"x2"},"y2":{"field":"y2"}}},
{"data":{"name":"b_arrows"},"mark":{"type":"rule","color":"black","strokeWidth":1},"encoding":{"x2":{"field":"x2"},"y2":{"field":"y2"}}},
{"data":{"name":"b_arrows"},"mark":{"type":"point","shape":"triangle","filled":true,"color":"black","opacity":1,"size":18},"encoding":{"x":{"field":"x2","type":"quantitative"},"y":{"field":"y2","type":"quantitative"},"angle":{"field":"dir","type":"quantitative","scale":null}}},
{"data":{"values":[{"x":-31.8,"y":48.67,"t":"(b)"}]},"mark":{"type":"text","align":"left","fontSize":27,"color":"#222"},"encoding":{"text":{"field":"t"}}},
{"data":{"values":[{"x":-25.56,"y":48.9,"t":"A"},{"x":-23.41,"y":44.98,"t":"B"}]},"mark":{"type":"text","fontSize":20,"fontWeight":"bold","color":"black"},"encoding":{"text":{"field":"t"}}}
]}
],"spacing":111,"bounds":"flush","resolve":{"scale":{"color":"independent"}}},
{"hconcat":[
{"width":265,"height":87,"data":{"values":[]},"mark":{"type":"point","opacity":0}},
{"width":576,"height":18,"view":{"stroke":"black"},"data":{"name":"bar"},"mark":{"type":"rect"},
"encoding":{"x":{"field":"lo","type":"quantitative","title":"3-h distance [km]","scale":{"domain":[300,650],"nice":false,"zero":false},"axis":{"values":[300,350,400,450,500,550,600,650],"labelFontSize":20,"titleFontSize":20,"tickSize":4,"labelPadding":1,"titlePadding":1,"domain":false}},"x2":{"field":"hi"},
"color":{"field":"d","type":"quantitative","legend":null,"scale":{"type":"threshold","domain":[325,350,375,400,425,450,475,500,525,550,575,600,625],"range":["#3a4cc0","#5068d9","#6a8bef","#84a7fc","#a1bfff","#bbd0f4","#d3dbe7","#e6d9cf","#f3c8b3","#f7ad8f","#f29072","#e36d53","#cd4638","#b40426"]}}}}
],"spacing":0,"bounds":"flush","resolve":{"scale":{"color":"independent"}}},
{"hconcat":[
{"width":506,"height":501,"resolve":{"scale":{"y":"independent"}},
"encoding":{"x":{"field":"x","type":"quantitative","title":"distance to jet [km]","scale":{"domain":[240.3,561.6],"nice":false,"zero":false},"axis":{"values":[250,300,350,400,450,500,550],"labelExpr":"datum.value%100==0?datum.value:''","labelFontSize":19,"titleFontSize":20,"tickSize":5,"labelPadding":1,"titlePadding":3}}},
"layer":[
{"encoding":{"y":{"field":"y","type":"quantitative","title":"3-h distance [km]","scale":{"domain":[250,650],"nice":false,"zero":false},"axis":{"values":[250,300,350,400,450,500,550,600,650],"labelFontSize":19,"titleFontSize":20,"tickSize":5,"labelPadding":3,"titlePadding":4}},
"color":{"field":"s","type":"nominal","legend":null,"scale":{"domain":["325K","323K","321K","319K","317K"],"range":["#7f0000","#b00000","#ff5c5c","#c8c8ff","#0000e6"]}}},
"layer":[
{"data":{"values":[{"x":314.8,"x2":460.8}]},"mark":{"type":"rect","color":"#d8d8d8"},"encoding":{"x2":{"field":"x2"},"y":null,"color":null}},
{"data":{"name":"c_fit"},"mark":{"type":"line","strokeWidth":1.3,"strokeDash":[1.5,2]},"encoding":{"detail":{"field":"s"}}},
{"data":{"name":"c_lines"},"mark":{"type":"line","strokeWidth":2.5},"encoding":{"detail":{"field":"s"}}},
{"data":{"name":"c_stars"},"mark":{"type":"point","filled":true,"opacity":1,"size":320,"shape":"M0,-1L0.24,-0.32L0.95,-0.31L0.38,0.12L0.59,0.81L0,0.4L-0.59,0.81L-0.38,0.12L-0.95,-0.31L-0.24,-0.32Z"}},
{"data":{"name":"c_labels"},"mark":{"type":"text","fontSize":14.5},"encoding":{"text":{"field":"s"}}},
{"data":{"values":[{"x":245.4,"y":647,"t":"(c)"}]},"mark":{"type":"text","align":"left","fontSize":27,"color":"#222"},"encoding":{"text":{"field":"t"},"color":null}},
{"data":{"values":[{"x":240.3,"y":220.5,"t":"A"},{"x":561,"y":220.5,"t":"B"}]},"mark":{"type":"text","align":"left","fontSize":23,"color":"#222"},"encoding":{"text":{"field":"t"},"color":null}}
]},
{"data":{"name":"c_green"},"mark":{"type":"line","color":"#0a7d0a","strokeWidth":2.5},"encoding":{"y":{"field":"v","type":"quantitative","title":"2-h mean VIHC[kg m⁻²]","scale":{"domain":[0,5],"nice":false},"axis":{"orient":"right","values":[0,1,2,3,4,5],"labelFontSize":19,"titleFontSize":21,"titleAngle":270,"titleBaseline":"top","tickSize":5,"labelPadding":3,"titlePadding":3,"domainColor":"#0a7d0a","tickColor":"#0a7d0a","labelColor":"#0a7d0a","titleColor":"#0a7d0a","domainWidth":1.5}}}}
]},
{"width":504,"height":501,"resolve":{"scale":{"y":"independent"}},
"encoding":{"x":{"field":"x","type":"quantitative","title":"distance to jet [km]","scale":{"domain":[275.5,549.8],"nice":false,"zero":false},"axis":{"values":[300,350,400,450,500],"labelExpr":"datum.value%100==0?datum.value:''","labelFontSize":19,"titleFontSize":20,"tickSize":5,"labelPadding":1,"titlePadding":3}}},
"layer":[
{"encoding":{"y":{"field":"y","type":"quantitative","title":"3-h distance [km]","scale":{"domain":[260,650],"nice":false,"zero":false},"axis":{"values":[300,350,400,450,500,550,600,650],"labelFontSize":19,"titleFontSize":20,"tickSize":5,"labelPadding":3,"titlePadding":4}},
"color":{"field":"s","type":"nominal","legend":null,"scale":{"domain":["325K","323K","321K","319K","317K"],"range":["#7f0000","#b00000","#ff5c5c","#c8c8ff","#0000e6"]}}},
"layer":[
{"data":{"values":[{"x":335,"x2":470.5}]},"mark":{"type":"rect","color":"#d8d8d8"},"encoding":{"x2":{"field":"x2"},"y":null,"color":null}},
{"data":{"name":"d_fit"},"mark":{"type":"line","strokeWidth":1.5,"strokeDash":[1.5,2.5]},"encoding":{"detail":{"field":"s"}}},
{"data":{"name":"d_lines"},"mark":{"type":"line","strokeWidth":2.5},"encoding":{"detail":{"field":"s"}}},
{"data":{"name":"d_stars"},"mark":{"type":"point","filled":true,"opacity":1,"size":320,"shape":"M0,-1L0.24,-0.32L0.95,-0.31L0.38,0.12L0.59,0.81L0,0.4L-0.59,0.81L-0.38,0.12L-0.95,-0.31L-0.24,-0.32Z"}},
{"data":{"name":"d_labels"},"mark":{"type":"text","fontSize":14.5},"encoding":{"text":{"field":"s"}}},
{"data":{"values":[{"x":280,"y":647,"t":"(d)"}]},"mark":{"type":"text","align":"left","fontSize":27,"color":"#222"},"encoding":{"text":{"field":"t"},"color":null}},
{"data":{"values":[{"x":272,"y":231,"t":"A"},{"x":548,"y":231,"t":"B"}]},"mark":{"type":"text","align":"left","fontSize":23,"color":"#222"},"encoding":{"text":{"field":"t"},"color":null}}
]},
{"data":{"name":"d_green"},"mark":{"type":"line","color":"#0a7d0a","strokeWidth":2.5},"encoding":{"y":{"field":"v","type":"quantitative","title":"2-h mean VIHC[kg m⁻²]","scale":{"domain":[0,5],"nice":false},"axis":{"orient":"right","values":[0,1,2,3,4,5],"labelFontSize":19,"titleFontSize":21,"titleAngle":270,"titleBaseline":"top","tickSize":5,"labelPadding":3,"titlePadding":3,"domainColor":"#0a7d0a","tickColor":"#0a7d0a","labelColor":"#0a7d0a","titleColor":"#0a7d0a","domainWidth":1.5}}}}
]}
],"spacing":122,"bounds":"flush","resolve":{"scale":{"color":"independent"}}}
]}
